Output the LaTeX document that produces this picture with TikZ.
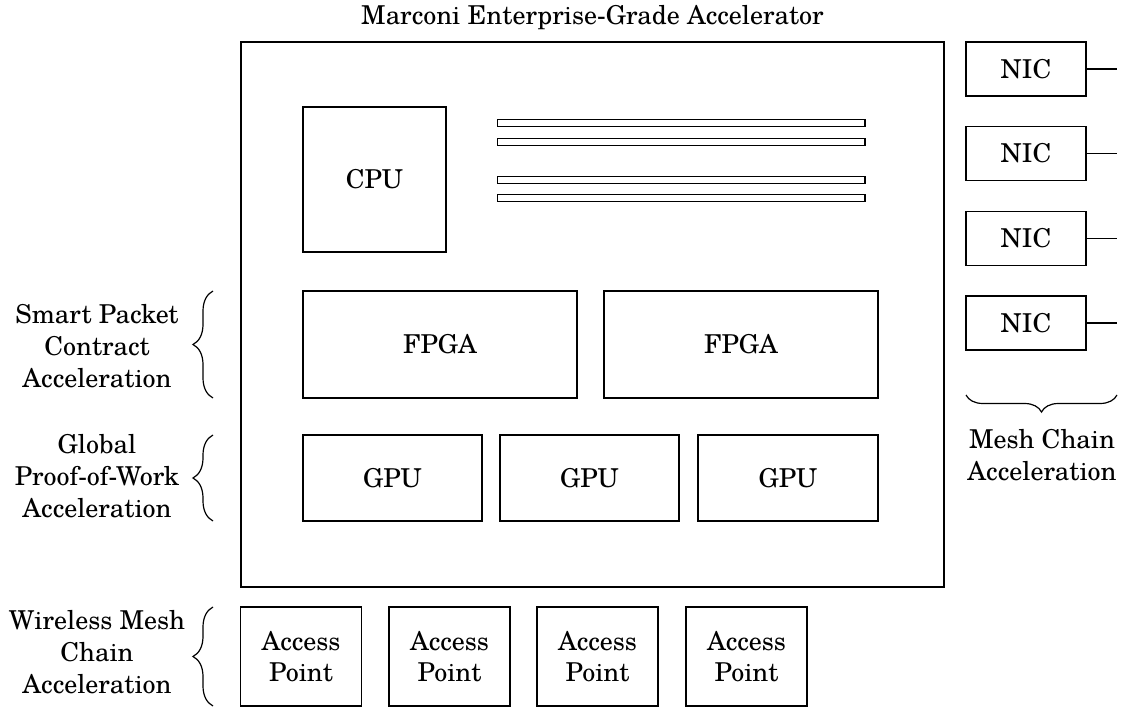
\documentclass[tikz,border=0pt]{standalone}
\usepackage{fontspec}
\setmainfont{TeX Gyre Schola}
\usetikzlibrary{decorations.pathreplacing}
\begin{document}
\begin{tikzpicture}[x=1pt,y=-1pt,
  every node/.style={font=\fontsize{26}{31.7}\selectfont},
  box/.style={draw, line width=1.3pt, inner sep=0pt},
  apbox/.style={box, align=center, minimum width=121pt, minimum height=99pt},
  rambar/.style={draw, line width=1.2pt, inner sep=0pt,
                 minimum width=367.5pt, minimum height=7pt},
  lbl/.style={align=center, inner sep=0pt},
  brc/.style={decorate, decoration={brace, amplitude=#1}, line width=1.2pt},
  brc/.default=20pt,
  link/.style={line width=1.2pt}]
\useasboundingbox (0,0) rectangle (1127,719);

% accelerator board
\node[box, minimum width=703pt, minimum height=545pt] (main) at (592.5,314.5) {};
\node[lbl, anchor=base] (title) at (592.5,25) {Marconi Enterprise-Grade Accelerator};

\node[box, minimum width=143pt, minimum height=145pt] (cpu) at (374.5,179.5) {CPU};

% memory modules
\node[rambar] (ram1) at (681.25,123) {};
\node[rambar] (ram2) at (681.25,141.8) {};
\node[rambar] (ram3) at (681.25,179.7) {};
\node[rambar] (ram4) at (681.25,198) {};

\node[box, minimum width=274pt, minimum height=107pt] (fpga1) at (440,344.5) {FPGA};
\node[box, minimum width=274pt, minimum height=107pt] (fpga2) at (741,344.5) {FPGA};

\node[box, minimum width=179pt, minimum height=86pt] (gpu1) at (392.5,478) {GPU};
\node[box, minimum width=179pt, minimum height=86pt] (gpu2) at (589.5,478) {GPU};
\node[box, minimum width=180pt, minimum height=86pt] (gpu3) at (788,478) {GPU};

% access points
\node[apbox] (ap1) at (301,656.5) {Access\\Point};
\node[apbox] (ap2) at (449.5,656.5) {Access\\Point};
\node[apbox] (ap3) at (597.5,656.5) {Access\\Point};
\node[apbox] (ap4) at (746.5,656.5) {Access\\Point};

% network cards
\foreach \i/\y in {1/69, 2/153.5, 3/238.5, 4/323} {
  \node[box, minimum width=120pt, minimum height=54pt] (nic\i) at (1026,\y) {NIC};
  \coordinate (nic\i end) at (1117,\y);
  \draw[link] (nic\i.east) -- (nic\i end);
}

% braces and their labels
\coordinate (b1s) at (213,398); \coordinate (b1e) at (213,291);
\coordinate (b2s) at (213,521); \coordinate (b2e) at (213,435);
\coordinate (b3s) at (213,706); \coordinate (b3e) at (213,607);
\coordinate (b4s) at (1117,395); \coordinate (b4e) at (966,395);
\draw[brc] (b1s) -- (b1e);
\draw[brc] (b2s) -- (b2e);
\draw[brc] (b3s) -- (b3e);
\draw[brc=17pt] (b4s) -- (b4e);

\node[lbl] (lsmart) at (97,346) {Smart Packet\\Contract\\Acceleration};
\node[lbl] (lglobal) at (97,476) {Global\\Proof-of-Work\\Acceleration};
\node[lbl] (lwire) at (97,652) {Wireless Mesh\\Chain\\Acceleration};
\node[lbl] (lmesh) at (1042,455) {Mesh Chain\\Acceleration};
\end{tikzpicture}
\end{document}
